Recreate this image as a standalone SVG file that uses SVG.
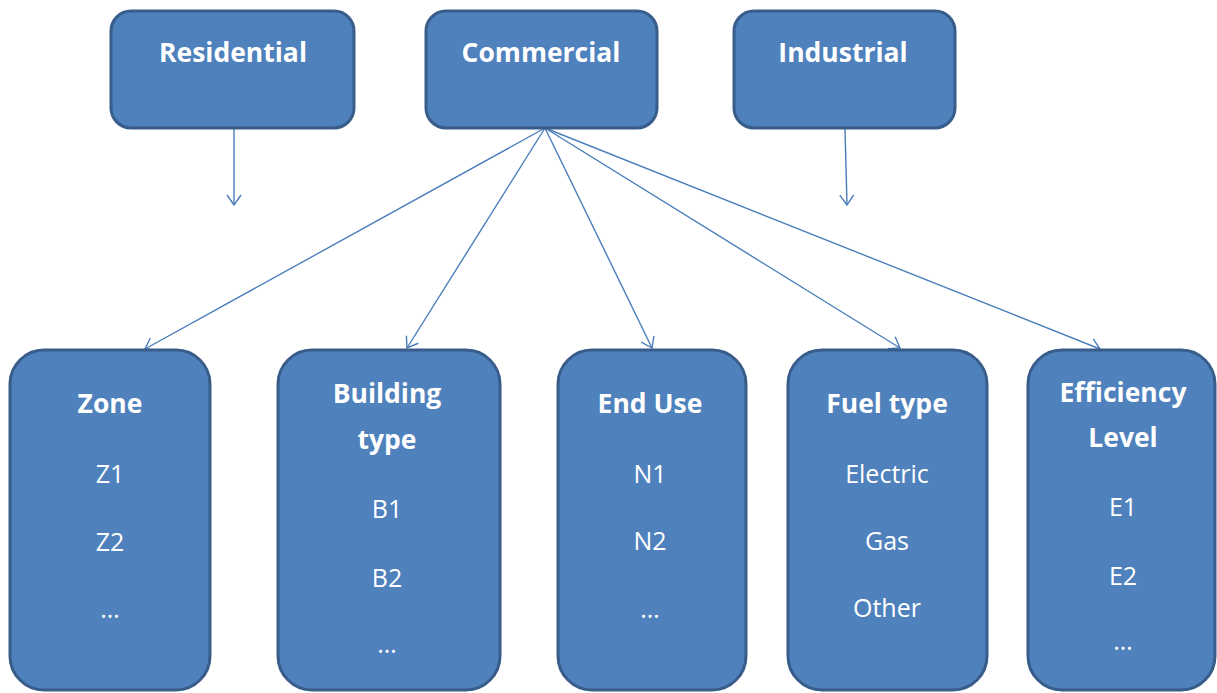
<svg xmlns="http://www.w3.org/2000/svg" width="1217" height="693" viewBox="0 0 1217 693">
<defs>
<style>
.box{fill:#4f81bd;stroke:#385d8a;stroke-width:3}
.t{font-family:"Open Sans","Noto Sans","Liberation Sans",sans-serif;fill:#ffffff;text-anchor:middle}
.b{font-weight:700;font-size:26.5px}
.r{font-weight:400;font-size:25px}
.c{fill:none;stroke:#4a7ebb;stroke-width:1.4}
</style>
<marker id="ah" viewBox="0 0 12 16" refX="11" refY="8" markerWidth="12" markerHeight="16" markerUnits="userSpaceOnUse" orient="auto">
<path d="M1,1 L11,8 L1,15" fill="none" stroke="#4a7ebb" stroke-width="1.4"/>
</marker>
</defs>
<rect width="1217" height="693" fill="#ffffff"/>
<g id="connectors">
<line class="c" x1="234" y1="129" x2="234" y2="205" marker-end="url(#ah)"/>
<line class="c" x1="845" y1="129" x2="847" y2="205" marker-end="url(#ah)"/>
<line class="c" x1="545" y1="128" x2="145" y2="349" marker-end="url(#ah)"/>
<line class="c" x1="545" y1="128" x2="407" y2="348" marker-end="url(#ah)"/>
<line class="c" x1="545" y1="128" x2="652" y2="348" marker-end="url(#ah)"/>
<line class="c" x1="545" y1="128" x2="900" y2="348" marker-end="url(#ah)"/>
<line class="c" x1="545" y1="128" x2="1100" y2="349" marker-end="url(#ah)"/>
</g>
<g id="residential">
<rect class="box" x="111" y="11" width="243" height="117" rx="20"/>
<text class="t b" x="233" y="62">Residential</text>
</g>
<g id="commercial">
<rect class="box" x="426" y="11" width="231" height="117" rx="20"/>
<text class="t b" x="541" y="62">Commercial</text>
</g>
<g id="industrial">
<rect class="box" x="734" y="11" width="221" height="117" rx="20"/>
<text class="t b" x="843" y="62">Industrial</text>
</g>
<g id="zone">
<rect class="box" x="10" y="350" width="200" height="340" rx="34"/>
<text class="t b" x="110" y="413">Zone</text>
<text class="t r" x="110" y="483">Z1</text>
<text class="t r" x="110" y="551">Z2</text>
<text class="t r" x="110" y="618">…</text>
</g>
<g id="building-type">
<rect class="box" x="278" y="350" width="222" height="340" rx="34"/>
<text class="t b" x="387" y="403">Building</text>
<text class="t b" x="387" y="449">type</text>
<text class="t r" x="387" y="518">B1</text>
<text class="t r" x="387" y="587">B2</text>
<text class="t r" x="387" y="653">…</text>
</g>
<g id="end-use">
<rect class="box" x="558" y="350" width="188" height="340" rx="34"/>
<text class="t b" x="650" y="413">End Use</text>
<text class="t r" x="650" y="483">N1</text>
<text class="t r" x="650" y="550">N2</text>
<text class="t r" x="650" y="618">…</text>
</g>
<g id="fuel-type">
<rect class="box" x="788" y="350" width="199" height="340" rx="34"/>
<text class="t b" x="887" y="413">Fuel type</text>
<text class="t r" x="887" y="483">Electric</text>
<text class="t r" x="887" y="550">Gas</text>
<text class="t r" x="887" y="617">Other</text>
</g>
<g id="efficiency-level">
<rect class="box" x="1028" y="350" width="187" height="340" rx="34"/>
<text class="t b" x="1123" y="402">Efficiency</text>
<text class="t b" x="1123" y="447">Level</text>
<text class="t r" x="1123" y="516">E1</text>
<text class="t r" x="1123" y="585">E2</text>
<text class="t r" x="1123" y="650">…</text>
</g>
</svg>
